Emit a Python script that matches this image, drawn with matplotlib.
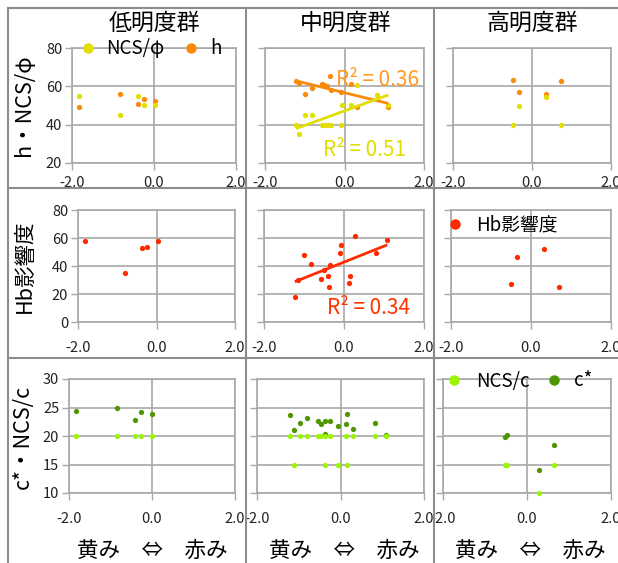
import matplotlib
matplotlib.use('Agg')
import matplotlib.pyplot as plt
from matplotlib.lines import Line2D
from matplotlib.transforms import Bbox, TransformedBbox
import numpy as np

plt.rcParams['font.family'] = ['Noto Sans CJK JP', 'DejaVu Sans']

# ---------------- data ----------------
groups = ['低明度群', '中明度群', '高明度群']
row_labels = ['h・NCS/φ', 'Hb影響度', 'c*・NCS/c']
x_label = '黄み　⇔　赤み'
xticks = [-2.0, 0.0, 2.0]
xtick_labels = ['-2.0', '0.0', '2.0']
row_yticks = [[20, 40, 60, 80], [0, 20, 40, 60, 80], [10, 15, 20, 25, 30]]

# low lightness group
low_x = [-1.83, -0.83, -0.40, -0.24, 0.02]
low_phi = [55, 45, 55, 50, 50]
low_h = [49, 56, 51, 53.5, 52.5]
low_hb_x = [-1.82, -0.81, -0.38, -0.23, 0.04]
low_hb = [58.1, 34.7, 53.0, 53.6, 58.1]
low_c_x = [-1.84, -0.84, -0.42, -0.26, 0.01]
low_c = [24.3, 25.0, 22.8, 24.2, 23.9]
low_ncsc = [20, 20, 20, 20, 20]

# middle lightness group
mid_h_x = [-1.22, -1.14, -0.99, -0.82, -0.57, -0.51, -0.45, -0.36, -0.34, -0.08, 0.17, 0.31, 1.10]
mid_h = [62.9, 61.8, 56.0, 59.3, 61.1, 60.5, 60.0, 65.6, 58.2, 56.9, 61.1, 49.1, 49.1]
mid_phi_x = [-1.22, -1.14, -0.99, -0.82, -0.56, -0.50, -0.42, -0.35, -0.10, -0.07, 0.17, 0.31, 0.83, 1.10]
mid_phi = [40, 35, 45, 45, 40, 40, 40, 40, 40, 50.5, 50, 60.5, 55.6, 50.5]
mid_hb_x = [-1.23, -1.15, -0.99, -0.83, -0.57, -0.50, -0.40, -0.38, -0.35, -0.10, -0.08, 0.13, 0.14, 0.28, 0.80, 1.08]
mid_hb = [18.0, 29.8, 47.6, 41.7, 30.7, 37.4, 32.6, 25.3, 40.5, 49.5, 54.9, 28.0, 32.6, 61.1, 49.2, 58.4]
mid_c_x = [-1.20, -1.12, -0.97, -0.81, -0.55, -0.47, -0.37, -0.38, -0.26, -0.06, 0.16, 0.14, 0.30, 0.82, 1.10]
mid_c = [23.7, 21.0, 22.2, 23.2, 22.7, 22.1, 22.6, 20.3, 22.7, 21.8, 23.9, 22.1, 21.25, 22.2, 20.2]
mid_ncsc_x = [-1.20, -1.12, -0.97, -0.81, -0.55, -0.47, -0.38, -0.37, -0.26, -0.06, 0.14, 0.16, 0.30, 0.82, 1.10]
mid_ncsc = [20, 15, 20, 20, 20, 20, 15, 20, 20, 15, 20, 15, 20, 20, 20]

# high lightness group
high_x = [-0.48, -0.34, 0.35, 0.73]
high_h = [63.4, 56.9, 56.2, 63.0]
high_phi = [40, 49.8, 54.6, 40]
high_hb_x = [-0.50, -0.36, 0.33, 0.70]
high_hb = [27.4, 46.4, 52.5, 24.7]
high_c_x = [-0.52, -0.48, 0.29, 0.65]
high_c = [19.9, 20.2, 14.0, 18.35]
high_ncsc = [15, 15, 10, 15]

r2_texts = ['R² = 0.36', 'R² = 0.51', 'R² = 0.34']

# ---------------- style ----------------
C_PHI = '#E2DE00'
C_H = '#FA8A0A'
C_HB = '#FF2A00'
C_NCSC = '#9CF500'
C_C = '#4E9600'
GRID = '#A8A8A8'
BORDER = '#8C8C8C'
MS = 3.8

W, H = 618, 563
fig = plt.figure(figsize=(W / 100, H / 100), dpi=100)


def fx(x):
    return x / W


def fy(y):
    return 1 - y / H


col_edges = [8, 245.5, 434, 618]
row_edges = [8, 187.5, 357.5, 563]
row_xpad = [4.5, 9, 8.5]

boxes = [[(72, 48, 236, 163), (265, 48, 424, 163), (453, 48, 611, 163)],
         [(78, 210, 235, 322), (264, 210, 424, 322), (451, 210, 611, 322)],
         [(69, 379, 235, 493), (257, 379, 424, 493), (443, 379, 611, 493)]]

axes = [[None] * 3 for _ in range(3)]
for r in range(3):
    for c in range(3):
        x0, y0, x1, y1 = boxes[r][c]
        ax = fig.add_axes([fx(x0), fy(y1), (x1 - x0) / W, (y1 - y0) / H])
        yt = row_yticks[r]
        ax.set_xlim(-2, 2)
        ax.set_ylim(yt[0], yt[-1])
        ax.set_xticks(xticks)
        ax.set_xticklabels(xtick_labels)
        ax.set_yticks(yt)
        ax.set_yticklabels([str(v) for v in yt])
        ax.grid(True, color=GRID, linewidth=1.2)
        ax.set_axisbelow(True)
        for s in ax.spines.values():
            s.set_color(GRID)
            s.set_linewidth(1.2)
        ax.tick_params(direction='out', length=5, width=1, color=GRID,
                       labelsize=10.5, labelcolor='#222222')
        ax.tick_params(axis='x', pad=row_xpad[r])
        ax.tick_params(axis='y', pad=2)
        if c > 0:
            ax.tick_params(labelleft=False)
        clip = TransformedBbox(Bbox.from_extents(fx(col_edges[c]), fy(row_edges[r + 1]),
                                                 fx(col_edges[c + 1]), fy(row_edges[r])),
                               fig.transFigure)
        for lbl in ax.get_xticklabels() + ax.get_yticklabels():
            lbl.set_clip_box(clip)
            lbl.set_clip_on(True)
        axes[r][c] = ax


def dots(ax, x, y, color, z=3):
    ax.plot(x, y, 'o', color=color, markersize=MS, markeredgewidth=0, zorder=z, clip_on=False)


def trend(ax, x, y, color):
    x = np.asarray(x, float)
    y = np.asarray(y, float)
    k = np.polyfit(x, y, 1)
    xs = np.array([x.min(), x.max()])
    ax.plot(xs, np.polyval(k, xs), color=color, linewidth=2.0, zorder=5, solid_capstyle='butt')


# row 1
dots(axes[0][0], low_x, low_h, C_H)
dots(axes[0][0], low_x, low_phi, C_PHI)
dots(axes[0][1], mid_h_x, mid_h, C_H)
dots(axes[0][1], mid_phi_x, mid_phi, C_PHI)
trend(axes[0][1], mid_h_x, mid_h, C_H)
trend(axes[0][1], mid_phi_x, mid_phi, C_PHI)
dots(axes[0][2], high_x, high_h, C_H)
dots(axes[0][2], high_x, high_phi, C_PHI)

# row 2
dots(axes[1][0], low_hb_x, low_hb, C_HB)
dots(axes[1][1], mid_hb_x, mid_hb, C_HB)
trend(axes[1][1], mid_hb_x, mid_hb, C_HB)
dots(axes[1][2], high_hb_x, high_hb, C_HB)

# row 3
dots(axes[2][0], low_c_x, low_c, C_C)
dots(axes[2][0], low_c_x, low_ncsc, C_NCSC)
dots(axes[2][1], mid_c_x, mid_c, C_C)
dots(axes[2][1], mid_ncsc_x, mid_ncsc, C_NCSC)
dots(axes[2][2], high_c_x, high_c, C_C)
dots(axes[2][2], high_c_x, high_ncsc, C_NCSC)

# ---------------- texts ----------------
title_x = [154, 346, 532]
for c in range(3):
    fig.text(fx(title_x[c]), fy(23), groups[c], ha='center', va='center', fontsize=16.5)
    fig.text(fx(title_x[c] - 2), fy(551), x_label, ha='center', va='center', fontsize=15.5)

ylab_pos = [(24, 105), (25, 266), (23, 437)]
for r in range(3):
    fig.text(fx(ylab_pos[r][0]), fy(ylab_pos[r][1]), row_labels[r], rotation=90,
             ha='center', va='center', fontsize=15.5)

fig.text(fx(336), fy(80), r2_texts[0], color='#FF9A22', fontsize=15, ha='left', va='center')
fig.text(fx(323), fy(149.5), r2_texts[1], color='#E2DE00', fontsize=15, ha='left', va='center')
fig.text(fx(327), fy(308), r2_texts[2], color='#FF3300', fontsize=15, ha='left', va='center')


# legends (manual, figure pixel coordinates)
def legend_item(px, py, color, label, tx):
    fig.add_artist(Line2D([fx(px)], [fy(py)], marker='o', color=color, markersize=7.5,
                          markeredgewidth=0, linestyle='none', transform=fig.transFigure))
    fig.text(fx(tx), fy(py + 1), label, ha='left', va='center', fontsize=13.5)


legend_item(88, 48, C_PHI, 'NCS/φ', 106)
legend_item(191, 48, C_H, 'h', 210)
legend_item(455, 224, C_HB, 'Hb影響度', 476)
legend_item(454, 380, C_NCSC, 'NCS/c', 476)
legend_item(554, 380, C_C, 'c*', 574)

# chart-area borders
for x in col_edges[:3]:
    fig.add_artist(Line2D([fx(x), fx(x)], [fy(8), fy(563)], color=BORDER, linewidth=1.5,
                          transform=fig.transFigure))
for y in row_edges[:3]:
    fig.add_artist(Line2D([fx(8), fx(618)], [fy(y), fy(y)], color=BORDER, linewidth=1.5,
                          transform=fig.transFigure))

fig.savefig('out.png', dpi=100)
